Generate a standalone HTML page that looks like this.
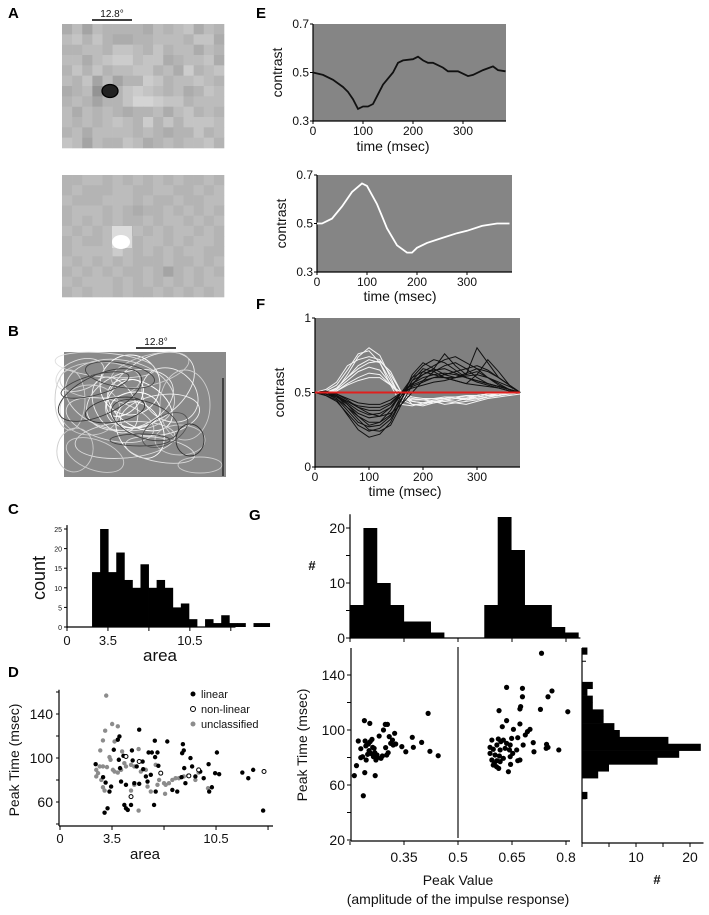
<!DOCTYPE html>
<html><head><meta charset="utf-8"><style>
html,body{margin:0;padding:0;background:#fff;}
svg{display:block;font-family:"Liberation Sans",sans-serif;}
</style></head><body>
<svg id="fig" width="709" height="915" viewBox="0 0 709 915" xmlns="http://www.w3.org/2000/svg">
<g font-weight="bold" font-size="15">
<text x="8" y="18">A</text>
<text x="8" y="336">B</text>
<text x="8" y="514">C</text>
<text x="8" y="677">D</text>
<text x="256" y="18">E</text>
<text x="256" y="309">F</text>
<text x="249" y="520">G</text>
</g>
<g id="pa"></g>
<g id="pb"></g>
<g id="pc"></g>
<g id="pd"></g>
<g id="pe"></g>
<g id="pf"></g>
<g id="pg"></g>
</svg>
<script>
// ---------- data ----------
const mosaicOff = ["4636555546567465","6757544556665774","5566577657566465","6646788677456674","5757566775648567","6573635587566765","4561357876564576","5653557998775666","6465654556467565","6565676585757776","5646666565455756","7636557645656675"];
const mosaicOn = ["5566565656565565","5655566556655656","6555666565565566","5666565455656565","5656565565665656","6565655656566565","5655686566565665","5666686565656655","6565656555655656","5656565565356565","6566656565656566","5656656556565656"];

const areaBinStart = 2.14;
const areaBinWidth = 0.69;
const areaCounts = [14,25,14,19,12,10,16,10,12,10,5,6,2,0,2,1,3,1,1,0,1,1];
const areaTicks = [0,3.5,7,10.5,14];
const areaTickLabels = ["0","3.5","","10.5",""];
const countTicks = [0,5,10,15,20,25];

const linArea = [2.4,3.0,3.2,2.9,3.07,3.33,3.44,3.62,3.89,4.0,3.96,4.04,4.11,4.27,4.33,4.44,4.56,4.78,4.84,4.89,5.0,5.16,5.33,5.56,5.6,5.78,5.89,5.96,6.11,6.18,6.56,6.33,6.38,6.4,6.44,6.62,7.22,7.56,7.89,8.22,8.18,8.27,8.33,8.36,8.44,8.78,8.89,9.11,9.44,9.67,10.0,10.04,10.22,10.44,10.56,10.71,12.27,12.67,13.0,13.67,5.33,4.44];
const linPeak = [94.4,50.3,54.3,82.6,77.7,69.5,74.0,107.5,116.6,119.6,98.4,90.8,78.6,102,57.3,54.3,52.8,57.3,106.9,97.8,77.1,92.3,125.7,96.8,89.8,83.2,78.6,105,84.7,105,105,57.3,115.7,100.8,69.5,92.9,115,71,69.5,104.4,82.6,112.6,106.9,90.8,77.1,99.9,92.3,83.2,87.7,81.6,94.4,69.5,73.4,86.2,105,85.3,86.8,81.6,89.2,52.2,76.5,75.6];
const nlArea = [4.44,4.78,5.33,6.78,9.33,13.73,8.67];
const nlPeak = [101.4,64.9,96.8,86.2,89.2,87.7,83.8];
const unArea = [3.11,3.04,2.89,3.51,3.89,2.71,3.33,3.4,2.44,2.56,2.44,2.67,2.89,3.16,3.56,3.67,3.89,4.11,4.33,4.18,4.44,4.78,5.0,5.29,5.44,5.78,2.89,3.0,2.78,4.78,5.0,5.29,5.89,6.11,6.44,6.67,7.0,7.07,7.33,7.56,7.78,8.0,8.33,8.62,9.11,9.33,9.96,7.11,6.56,3.67];
const unPeak = [156.7,124.8,116,130.9,128.8,106.9,100.8,98.4,89.2,86.2,83.2,92.3,92.3,91.7,89.2,87.7,86.8,89.2,95.3,106,92.3,93.8,92.3,108.1,87.7,89.2,73.4,70.4,80.1,70.4,75.6,52.2,74,69.5,93.8,80.1,77.1,67.4,77.1,80.1,81.6,81.6,83.2,83.8,80.1,86.8,72.5,75.6,75.6,115];
const peakTicksD = [40,60,80,100,120,140,160];
const peakLabelsD = ["","60","","100","","140",""];

const e1Time = [0,20,40,60,70,80,90,100,110,120,130,140,160,170,180,200,210,220,230,240,260,270,290,310,320,340,360,370,385];
const e1Val = [0.50,0.49,0.47,0.44,0.42,0.39,0.35,0.36,0.36,0.37,0.41,0.45,0.50,0.54,0.55,0.555,0.565,0.55,0.54,0.54,0.52,0.505,0.505,0.485,0.49,0.51,0.525,0.51,0.505];
const e2Time = [0,10,30,50,70,90,100,120,140,160,180,190,200,220,250,280,300,330,360,385];
const e2Val = [0.50,0.50,0.52,0.57,0.63,0.665,0.655,0.58,0.48,0.41,0.38,0.38,0.40,0.42,0.44,0.46,0.47,0.49,0.50,0.50];
const contrastTicksE = [0.3,0.5,0.7];
const timeTicks = [0,100,200,300];

const fTime = [0,20,40,60,80,100,120,140,160,180,200,220,240,260,280,300,320,340,360,380];
const fWhite = [
[.5,.5,.52,.62,.74,.8,.75,.6,.45,.42,.42,.44,.45,.46,.45,.47,.48,.49,.5,.5],
[.5,.49,.53,.6,.68,.72,.7,.58,.46,.44,.43,.43,.45,.44,.46,.48,.49,.5,.5,.5],
[.5,.51,.55,.65,.76,.78,.7,.55,.42,.41,.43,.44,.42,.43,.44,.45,.47,.48,.49,.5],
[.5,.5,.52,.58,.64,.67,.65,.56,.47,.45,.45,.46,.46,.47,.47,.48,.49,.49,.5,.5],
[.5,.5,.51,.56,.6,.63,.62,.55,.48,.46,.45,.44,.45,.46,.46,.47,.48,.48,.49,.5],
[.5,.52,.57,.68,.72,.74,.72,.62,.5,.42,.41,.43,.44,.43,.42,.44,.46,.47,.48,.49],
[.5,.5,.53,.6,.66,.7,.71,.64,.5,.44,.43,.45,.46,.47,.45,.46,.47,.48,.5,.5],
[.5,.49,.51,.55,.58,.6,.6,.55,.5,.47,.46,.46,.47,.47,.48,.48,.49,.49,.5,.5]];
const fBlack = [
[.5,.48,.45,.35,.25,.2,.22,.3,.45,.58,.62,.65,.66,.63,.6,.58,.56,.54,.52,.5],
[.5,.49,.46,.38,.3,.27,.28,.34,.48,.6,.68,.72,.7,.65,.6,.57,.55,.53,.51,.5],
[.5,.5,.47,.42,.36,.33,.34,.4,.5,.56,.6,.62,.63,.62,.6,.58,.56,.54,.52,.5],
[.5,.51,.48,.4,.32,.25,.24,.28,.42,.55,.64,.68,.72,.74,.7,.66,.6,.55,.52,.5],
[.5,.49,.47,.44,.4,.38,.38,.42,.5,.56,.62,.66,.76,.68,.62,.8,.7,.6,.55,.5],
[.5,.5,.48,.43,.38,.35,.36,.4,.48,.54,.57,.6,.6,.58,.56,.55,.54,.53,.51,.5],
[.5,.5,.48,.44,.41,.4,.4,.43,.5,.55,.58,.6,.62,.64,.66,.68,.65,.6,.55,.5],
[.5,.48,.44,.36,.28,.24,.26,.32,.45,.62,.7,.66,.62,.6,.62,.64,.6,.56,.52,.5],
[.5,.5,.49,.46,.43,.42,.42,.45,.5,.53,.55,.57,.58,.6,.61,.62,.6,.57,.54,.5],
[.5,.49,.46,.4,.34,.3,.3,.35,.46,.58,.66,.64,.6,.58,.56,.62,.72,.64,.55,.5],
[.5,.51,.49,.45,.4,.36,.34,.36,.42,.5,.58,.64,.68,.7,.66,.6,.56,.54,.52,.5],
[.5,.5,.48,.42,.34,.28,.3,.38,.5,.6,.64,.62,.6,.6,.63,.66,.64,.6,.55,.5]];
const contrastTicksF = [0,0.5,1];
const contrastLabelsF = ["0","0.5","1"];

const pvBinStart = 0.2;
const pvBinWidth = 0.0373;
const pvCounts = [6,20,10,6,3,3,1,0,0,0,6,22,16,6,6,2,1];
const ptBinStart = 50;
const ptBinWidth = 5;
const ptCounts = [1,0,0,3,5,14,18,22,16,7,6,4,4,2,2,1,2,0,0,0,0,1];
const gValue = [0.212,0.218,0.223,0.230,0.230,0.235,0.240,0.241,0.242,0.244,0.245,0.249,0.251,0.253,0.255,0.256,0.258,0.261,0.263,0.265,0.267,0.269,0.270,0.272,0.275,0.276,0.281,0.286,0.290,0.293,0.298,0.299,0.302,0.304,0.306,0.309,0.313,0.318,0.320,0.324,0.327,0.344,0.355,0.373,0.376,0.399,0.417,0.422,0.445,0.237,
0.732,0.635,0.679,0.761,0.679,0.750,0.674,0.672,0.729,0.805,0.614,0.635,0.672,0.623,0.654,0.700,0.693,0.687,0.666,0.649,0.594,0.612,0.626,0.619,0.635,0.589,0.608,0.645,0.681,0.709,0.746,0.745,0.750,0.780,0.711,0.598,0.617,0.631,0.643,0.652,0.663,0.603,0.615,0.645,0.672,0.666,0.626,0.608,0.594,0.601,0.617,0.646,0.613,0.607,0.640,0.598,0.589];
const gPeak = [66.8,74.1,92,86.4,79.9,80.6,106.8,69,92,88.4,78.2,82.3,89.8,85,104.8,91.5,83,93.2,87.4,80.6,86.7,83.5,66.8,78.2,81.8,79.9,95.6,79.4,81.1,100,104.1,87.2,81.8,104.1,83.5,95.2,90.3,92.7,89.1,97.6,89.8,87.9,84.2,94.7,87.4,91,112.1,84.5,81.3,52.2,
155.8,131,130.3,128.4,124.2,124.2,117,115.3,115,113.3,114.1,106.8,104.4,102.4,100.5,100.5,98.8,96.4,94.4,93.9,92.7,93.5,92.7,91.5,90.3,87.4,89.1,89.1,89.1,90.8,89.6,86.7,87.4,85.5,84.2,86,85.5,86.7,85.5,83,85.5,81.8,81.1,80.6,78.2,77.7,79.4,77.7,78.2,75.8,77,75,72.1,73.3,69.7,74.5,83];
const pvTicks = [0.2,0.35,0.5,0.65,0.8];
const pvTickLabels = ["","0.35","0.5","0.65","0.8"];
const ptTicksG = [20,40,60,80,100,120,140];
const ptLabelsG = ["20","","60","","100","","140"];
const histCountTicks = [0,5,10,15,20];
const histCountLabels = ["0","","10","","20"];

// ---------- helpers ----------
const NS = "http://www.w3.org/2000/svg";
function mk(parent, tag, attrs){ const e=document.createElementNS(NS,tag); for(const k in attrs) e.setAttribute(k,attrs[k]); parent.appendChild(e); return e; }
function txt(parent, x, y, s, size, anchor, extra){ const t=mk(parent,'text',Object.assign({x:x,y:y,'font-size':size,'text-anchor':anchor||'middle',fill:'#111'},extra||{})); t.textContent=s; return t; }
function pathFrom(xs, ys){ return xs.map((x,i)=>(i?'L':'M')+x.toFixed(1)+' '+ys[i].toFixed(1)).join(' '); }
let el;

// ---------- Panel A ----------
const pa = document.getElementById('pa');
function mosaic(rows, x0, y0, w, h, name){
  const g = mk(pa,'g',{});
  
  
  const cw=w/16, ch=h/12;
  rows.forEach((r,ri)=>{ for(let ci=0;ci<16;ci++){ const v=140+parseInt(r[ci])*8;
    el = mk(g,'rect',{x:(x0+ci*cw).toFixed(2),y:(y0+ri*ch).toFixed(2),width:(cw+0.3).toFixed(2),height:(ch+0.3).toFixed(2),fill:`rgb(${v},${v},${v})`});
    
    
  }});
}
mosaic(mosaicOff,62,24,162,124,'off-receptive-field-map');
mosaic(mosaicOn,62,175,162,122,'on-receptive-field-map');
el = mk(pa,'ellipse',{cx:110,cy:91,rx:8,ry:6.5,fill:'#222',stroke:'#000','stroke-width':1.3});


el = mk(pa,'rect',{x:112,y:226,width:20,height:22,fill:'#dcdcdc'});


el = mk(pa,'ellipse',{cx:121,cy:242,rx:9,ry:7,fill:'#fff'});


el = mk(pa,'line',{x1:92,y1:20,x2:132,y2:20,stroke:'#000','stroke-width':1.5});


el = txt(pa,112,17,'12.8°',10);



// ---------- Panel B ----------
const pb = document.getElementById('pb');
el = mk(pb,'rect',{x:64,y:352,width:162,height:125,fill:'#8a8a8a'});


const ells = [
[130,400,45,28,-20,'#eee'],[120,395,55,35,10,'#ddd'],[140,405,35,22,30,'#fff'],[100,380,40,18,0,'#ccc'],[150,390,50,30,-35,'#eee'],
[110,420,45,20,15,'#ddd'],[90,410,30,25,0,'#ccc'],[160,415,40,20,-10,'#eee'],[130,385,30,30,0,'#fff'],[80,375,25,15,-20,'#ddd'],
[180,440,25,15,0,'#ccc'],[200,465,22,8,0,'#ccc'],[75,450,18,22,10,'#ccc'],[125,440,50,18,-5,'#ddd'],[170,395,30,25,40,'#eee'],
[105,365,50,12,5,'#ddd'],[150,370,40,15,-15,'#ccc'],[95,455,30,15,20,'#ccc'],[140,430,30,22,60,'#fff'],[115,405,20,30,-30,'#eee'],
[185,405,25,35,0,'#ccc'],[70,400,15,30,0,'#ccc'],[160,450,35,12,10,'#ddd'],[135,410,25,18,0,'#fff'],[125,398,22,14,-45,'#fff'],
[100,395,45,20,-25,'#3a3a3a'],[145,420,35,18,20,'#444'],[115,410,30,12,-10,'#333'],[190,440,14,16,0,'#333'],[140,440,30,6,0,'#444'],
[95,385,35,10,-15,'#444'],[165,430,25,14,-30,'#555'],[120,375,35,12,10,'#444']];
ells.forEach(e=>{
  el = mk(pb,'ellipse',{cx:e[0],cy:e[1],rx:e[2],ry:e[3],transform:`rotate(${e[4]} ${e[0]} ${e[1]})`,fill:'none',stroke:e[5],'stroke-width':0.9});
  
  
});
el = mk(pb,'line',{x1:223,y1:378,x2:223,y2:476,stroke:'#111','stroke-width':1.2});


el = mk(pb,'line',{x1:136,y1:348,x2:176,y2:348,stroke:'#000','stroke-width':1.5});


el = txt(pb,156,345,'12.8°',10);



// ---------- Panel E ----------
const pe = document.getElementById('pe');
function tracePlot(parent, x0, x1, yTop, yBot, xs, ys, tVals, vTicks, vLabels, vMin, vMax, msPerPx, bg, labelY, titleY, cx, name){
  el = mk(parent,'rect',{x:x0,y:yTop,width:x1-x0,height:yBot-yTop,fill:bg});
  
  
  el = mk(parent,'line',{x1:x0,y1:yTop,x2:x0,y2:yBot+1,stroke:'#000','stroke-width':1.2});
  
  
  el = mk(parent,'line',{x1:x0,y1:yBot,x2:x1,y2:yBot,stroke:'#000','stroke-width':1.2});
  
  
  const X = t=>x0+t*msPerPx, Y = v=>yBot-(v-vMin)/(vMax-vMin)*(yBot-yTop);
  vTicks.forEach((v,i)=>{
    el = mk(parent,'line',{x1:x0-3,y1:Y(v),x2:x0,y2:Y(v),stroke:'#000'});
    
    
    el = txt(parent,x0-4,Y(v)+4,vLabels[i],12,'end');
    
    
  });
  tVals.forEach(t=>{
    el = mk(parent,'line',{x1:X(t),y1:yBot,x2:X(t),y2:yBot+3,stroke:'#000'});
    
    
    el = txt(parent,X(t),labelY,String(t),12);
    
    
  });
  el = txt(parent,cx,titleY,'time (msec)',14);
  
  
  const my=(yTop+yBot)/2, mx=x0-31;
  el = txt(parent,mx,my,'contrast',14,'middle',{transform:`rotate(-90 ${mx} ${my})`});
  
  
  return {X:X,Y:Y};
}
const s1 = tracePlot(pe,313,506,24,121,null,null,timeTicks,contrastTicksE,["0.3","0.5","0.7"],0.3,0.7,0.5,'#858585',135,151,393,'off-impulse');
el = mk(pe,'path',{d:pathFrom(e1Time.map(s1.X),e1Val.map(s1.Y)),fill:'none',stroke:'#111','stroke-width':1.8});


const s2 = tracePlot(pe,317,512,175,272,null,null,timeTicks,contrastTicksE,["0.3","0.5","0.7"],0.3,0.7,0.5,'#858585',286,301,400,'on-impulse');
el = mk(pe,'path',{d:pathFrom(e2Time.map(s2.X),e2Val.map(s2.Y)),fill:'none',stroke:'#fff','stroke-width':1.8});



// ---------- Panel F ----------
const pf = document.getElementById('pf');
const s3 = tracePlot(pf,315,520,318,467,null,null,timeTicks,contrastTicksF,contrastLabelsF,0,1,0.54,'#808080',481,496,405,'population');
fWhite.forEach(tr=>{
  el = mk(pf,'path',{d:pathFrom(fTime.map(s3.X),tr.map(s3.Y)),fill:'none',stroke:'#f4f4f4','stroke-width':1});
  
  
});
fBlack.forEach(tr=>{
  el = mk(pf,'path',{d:pathFrom(fTime.map(s3.X),tr.map(s3.Y)),fill:'none',stroke:'#111','stroke-width':1});
  
  
});
el = mk(pf,'line',{x1:s3.X(0),y1:s3.Y(0.5),x2:520,y2:s3.Y(0.5),stroke:'#e0201e','stroke-width':2});



// ---------- Panel C ----------
const pc = document.getElementById('pc');
const cX = a=>67+a*11.7, cY = c=>627-c*3.92;
areaCounts.forEach((c,i)=>{
  if(!c) return;
  const a0=areaBinStart+i*areaBinWidth;
  el = mk(pc,'rect',{x:cX(a0).toFixed(2),y:cY(c).toFixed(2),width:(areaBinWidth*11.7+0.4).toFixed(2),height:(c*3.92).toFixed(2),fill:'#000'});
  
  
});
el = mk(pc,'line',{x1:67,y1:cY(26),x2:67,y2:628,stroke:'#000','stroke-width':1.2});


el = mk(pc,'line',{x1:67,y1:627,x2:cX(14.4),y2:627,stroke:'#000','stroke-width':1.2});


countTicks.forEach(c=>{
  el = mk(pc,'line',{x1:64,y1:cY(c),x2:67,y2:cY(c),stroke:'#000'});
  
  
  el = txt(pc,62,cY(c)+3,String(c),7,'end');
  
  
});
areaTicks.forEach((a,i)=>{
  el = mk(pc,'line',{x1:cX(a),y1:627,x2:cX(a),y2:631,stroke:'#000'});
  
  
  el = txt(pc,cX(a),645,areaTickLabels[i],13);
  
  
});
el = txt(pc,160,661,'area',17);


el = txt(pc,45,578,'count',18,'middle',{transform:'rotate(-90 45 578)'});



// ---------- Panel D ----------
const pd = document.getElementById('pd');
const dX = a=>60+a*14.86, dY = m=>758-(m-100)*1.1;
el = mk(pd,'line',{x1:59,y1:dY(162),x2:59,y2:826,stroke:'#000','stroke-width':1.2});


el = mk(pd,'line',{x1:59,y1:826,x2:273,y2:826,stroke:'#000','stroke-width':1.2});


peakTicksD.forEach((m,i)=>{
  el = mk(pd,'line',{x1:56,y1:dY(m),x2:59,y2:dY(m),stroke:'#000'});
  
  
  if(peakLabelsD[i]){ el = txt(pd,53,dY(m)+5,peakLabelsD[i],14,'end');
  
   }
});
areaTicks.forEach((a,i)=>{
  el = mk(pd,'line',{x1:dX(a),y1:826,x2:dX(a),y2:830,stroke:'#000'});
  
  
  el = txt(pd,dX(a),843,areaTickLabels[i],13);
  
  
});
el = txt(pd,145,859,'area',15);


el = txt(pd,19,760,'Peak Time (msec)',14,'middle',{transform:'rotate(-90 19 760)'});


unArea.forEach((a,i)=>{
  el = mk(pd,'circle',{cx:dX(a),cy:dY(unPeak[i]),r:2.2,fill:'#8c8c8c'});
  
  
});
linArea.forEach((a,i)=>{
  el = mk(pd,'circle',{cx:dX(a),cy:dY(linPeak[i]),r:2.2,fill:'#000'});
  
  
});
nlArea.forEach((a,i)=>{
  el = mk(pd,'circle',{cx:dX(a),cy:dY(nlPeak[i]),r:2,fill:'#fff',stroke:'#000','stroke-width':1});
  
  
});
const legItems=[['linear','#000','none'],['non-linear','#fff','#000'],['unclassified','#8c8c8c','none']];
legItems.forEach((L,i)=>{
  el = mk(pd,'circle',{cx:193,cy:694+i*15,r:2.5,fill:L[1],stroke:L[2]});
  
  
  el = txt(pd,201,698+i*15,L[0],11,'start');
  
  
});

// ---------- Panel G ----------
const pg = document.getElementById('pg');
const gX = v=>458+(v-0.5)*360, gY = m=>730-(m-100)*1.375, hY = c=>638-c*5.5, rX = c=>582+c*5.4;
pvCounts.forEach((c,i)=>{
  if(!c) return;
  const v0=pvBinStart+i*pvBinWidth;
  el = mk(pg,'rect',{x:gX(v0).toFixed(2),y:hY(c).toFixed(2),width:(pvBinWidth*360+0.4).toFixed(2),height:(c*5.5).toFixed(2),fill:'#000'});
  
  
});
el = mk(pg,'line',{x1:350,y1:hY(22.5),x2:350,y2:639,stroke:'#000','stroke-width':1.2});


el = mk(pg,'line',{x1:350,y1:638,x2:gX(0.84),y2:638,stroke:'#000','stroke-width':1.2});


histCountTicks.forEach((c,i)=>{
  el = mk(pg,'line',{x1:346,y1:hY(c),x2:350,y2:hY(c),stroke:'#000'});
  
  
  if(histCountLabels[i]){ el = txt(pg,345,hY(c)+5,histCountLabels[i],14,'end');
  
   }
});
pvTicks.forEach(v=>{
  el = mk(pg,'line',{x1:gX(v),y1:638,x2:gX(v),y2:642,stroke:'#000'});
  
  
});
el = txt(pg,312,570,'#',13,'middle',{'font-weight':'bold'});


// scatter
el = mk(pg,'line',{x1:351,y1:648,x2:351,y2:841,stroke:'#000','stroke-width':1.2});


el = mk(pg,'line',{x1:351,y1:841,x2:570,y2:841,stroke:'#000','stroke-width':1.2});


el = mk(pg,'line',{x1:gX(0.5),y1:647,x2:gX(0.5),y2:838,stroke:'#222','stroke-width':1.3});


ptTicksG.forEach((m,i)=>{
  el = mk(pg,'line',{x1:347,y1:gY(m),x2:351,y2:gY(m),stroke:'#000'});
  
  
  if(ptLabelsG[i]){ el = txt(pg,345,gY(m)+5,ptLabelsG[i],14,'end');
  
   }
});
pvTicks.forEach((v,i)=>{
  el = mk(pg,'line',{x1:gX(v),y1:841,x2:gX(v),y2:845,stroke:'#000'});
  
  
  el = txt(pg,gX(v),862,pvTickLabels[i],14);
  
  
});
gValue.forEach((v,i)=>{
  el = mk(pg,'circle',{cx:gX(v),cy:gY(gPeak[i]),r:2.6,fill:'#000'});
  
  
});
el = txt(pg,458,885,'Peak Value',14);


el = txt(pg,458,904,'(amplitude of the impulse response)',14);


el = txt(pg,307,745,'Peak Time (msec)',14,'middle',{transform:'rotate(-90 307 745)'});


// right histogram
ptCounts.forEach((c,i)=>{
  if(!c) return;
  const m0=ptBinStart+i*ptBinWidth;
  el = mk(pg,'rect',{x:582,y:gY(m0+ptBinWidth).toFixed(2),width:(c*5.4).toFixed(2),height:(ptBinWidth*1.375+0.3).toFixed(2),fill:'#000'});
  
  
});
el = mk(pg,'line',{x1:582,y1:648,x2:582,y2:843,stroke:'#000','stroke-width':1.2});


el = mk(pg,'line',{x1:582,y1:843,x2:rX(22.5),y2:843,stroke:'#000','stroke-width':1.2});


[50,100,150].forEach(m=>{
  el = mk(pg,'line',{x1:582,y1:gY(m),x2:586,y2:gY(m),stroke:'#000'});
  
  
});
histCountTicks.forEach((c,i)=>{
  el = mk(pg,'line',{x1:rX(c),y1:843,x2:rX(c),y2:847,stroke:'#000'});
  
  
  if(c>0 && histCountLabels[i]){ el = txt(pg,rX(c),862,histCountLabels[i],14);
  
   }
});
el = txt(pg,657,884,'#',13,'middle',{'font-weight':'bold'});


</script>
</body></html>
